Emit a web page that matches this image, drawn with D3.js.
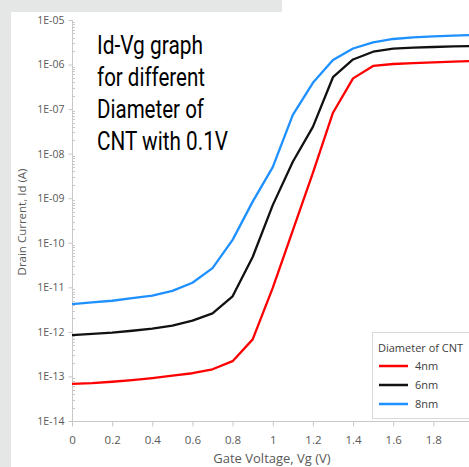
<!DOCTYPE html>
<html><head><meta charset="utf-8">
<script src="https://cdn.jsdelivr.net/npm/d3@7"></script>
<style>
html,body{margin:0;padding:0;background:#fff;}
svg{display:block;}
</style></head>
<body>
<svg id="c" width="469" height="467"></svg>
<script>
// ---- data ----
const vg = [0,0.1,0.2,0.3,0.4,0.5,0.6,0.7,0.8,0.9,1.0,1.1,1.2,1.3,1.4,1.5,1.6,1.7,1.8,1.9,2.0];
const id4nm = [6.8e-14,7.1e-14,7.6e-14,8.3e-14,9.2e-14,1.04e-13,1.18e-13,1.45e-13,2.2e-13,6.8e-13,9.7e-12,1.9e-10,3.7e-9,8.3e-8,4.9e-7,9.3e-7,1.03e-6,1.08e-6,1.12e-6,1.16e-6,1.2e-6];
const id6nm = [8.5e-13,9.0e-13,9.6e-13,1.06e-12,1.18e-12,1.38e-12,1.79e-12,2.6e-12,6.3e-12,4.8e-11,7.0e-10,6.6e-9,4.0e-8,5.2e-7,1.3e-6,1.94e-6,2.27e-6,2.39e-6,2.48e-6,2.57e-6,2.61e-6];
const id8nm = [4.2e-12,4.6e-12,5.0e-12,5.7e-12,6.5e-12,8.3e-12,1.27e-11,2.7e-11,1.16e-10,8.4e-10,5.0e-9,7.4e-8,3.9e-7,1.27e-6,2.29e-6,3.16e-6,3.75e-6,4.09e-6,4.31e-6,4.45e-6,4.61e-6];
const seriesNames = ["4nm","6nm","8nm"];
const seriesColors = ["#ff0000","#111111","#1e90ff"];
const yTickValues = [1e-5,1e-6,1e-7,1e-8,1e-9,1e-10,1e-11,1e-12,1e-13,1e-14];
const yTickLabels = ["1E-05","1E-06","1E-07","1E-08","1E-09","1E-10","1E-11","1E-12","1E-13","1E-14"];
const xTickValues = [0,0.2,0.4,0.6,0.8,1.0,1.2,1.4,1.6,1.8];
const xTickLabels = ["0","0.2","0.4","0.6","0.8","1","1.2","1.4","1.6","1.8"];
const titleLines = ["Id-Vg graph","for different","Diameter of","CNT with 0.1V"];
const xTitle = "Gate Voltage, Vg (V)";
const yTitle = "Drain Current, Id (A)";
const legendTitle = "Diameter of CNT";

// ---- drawing ----
const svg = d3.select("#c");
const axisColor = "#c8c8c8";
const textColor = "#595959";
const fontTick = "'Open Sans', 'Liberation Sans', sans-serif";

// grey backdrop strips
svg.append("rect").attr("x",0).attr("y",0).attr("width",282).attr("height",12).attr("fill","#e5e7e6");
svg.append("rect").attr("x",0).attr("y",0).attr("width",11).attr("height",467).attr("fill","#e5e7e6");

const x = d3.scaleLinear().domain([0,2]).range([72,473.5]);
const y = d3.scaleLog().domain([1e-14,1e-5]).range([421,20]);

// minor y ticks
const minor = [];
for (let e=-14;e<-5;e++) for (let m=2;m<=9;m++) minor.push(m*Math.pow(10,e));
svg.append("g").selectAll("line").data(minor).join("line")
  .attr("x1",72).attr("x2",75).attr("y1",d=>Math.round(y(d))+0.5).attr("y2",d=>Math.round(y(d))+0.5)
  .attr("stroke",axisColor).attr("stroke-width",1);

// y axis
const yAxis = d3.axisLeft(y).tickValues(yTickValues).tickSize(4).tickPadding(4)
  .tickFormat((d,i)=>yTickLabels[i]);
const gy = svg.append("g").attr("transform","translate(72.5,0)").call(yAxis);
gy.select(".domain").attr("stroke",axisColor).attr("d","M0,20V421");
gy.selectAll(".tick line").attr("stroke",axisColor);
gy.selectAll(".tick text").attr("fill",textColor).style("font-family",fontTick).style("font-size","10.5px");

// x axis
const xAxis = d3.axisBottom(x).tickValues(xTickValues).tickSize(5).tickPadding(9)
  .tickFormat((d,i)=>xTickLabels[i]);
const gx = svg.append("g").attr("transform","translate(0,421.5)").call(xAxis);
gx.select(".domain").attr("stroke",axisColor).attr("d","M72,0H473.5");
gx.selectAll(".tick line").attr("stroke",axisColor);
gx.selectAll(".tick text").attr("fill",textColor).style("font-family",fontTick).style("font-size","11.5px");

// axis titles
svg.append("text").attr("x",272).attr("y",463).attr("text-anchor","middle")
  .attr("fill",textColor).style("font-family",fontTick).style("font-size","13px").text(xTitle);
svg.append("text").attr("transform","translate(26,222) rotate(-90)").attr("text-anchor","middle")
  .attr("fill",textColor).style("font-family",fontTick).style("font-size","11.5px").text(yTitle);

// series lines
const data = [id4nm,id6nm,id8nm];
const line = d3.line().x((d,i)=>x(vg[i])).y(d=>y(d));
svg.append("g").selectAll("path").data(data).join("path")
  .attr("d",line).attr("fill","none")
  .attr("stroke",(d,i)=>seriesColors[i]).attr("stroke-width",2.3)
  .attr("stroke-linejoin","round");

// title text
const titleWidths = [106,108,107,131];
const tg = svg.append("g");
titleLines.forEach((t,i)=>{
  tg.append("text").attr("x",97).attr("y",53.5+i*32)
    .attr("fill","#000").style("font-family","Roboto, sans-serif").style("font-size","25px")
    .attr("textLength",titleWidths[i]).attr("lengthAdjust","spacingAndGlyphs").text(t);
});

// legend
const lg = svg.append("g");
lg.append("rect").attr("x",372.5).attr("y",332.5).attr("width",110).attr("height",86)
  .attr("fill","#fff").attr("stroke","#d9d9d9");
lg.append("text").attr("x",378).attr("y",351.5).attr("fill","#404040")
  .style("font-family",fontTick).style("font-size","11px").text(legendTitle);
seriesNames.forEach((n,i)=>{
  const yy = 366 + i*19;
  lg.append("line").attr("x1",379).attr("x2",408).attr("y1",yy).attr("y2",yy)
    .attr("stroke",seriesColors[i]).attr("stroke-width",2.5);
  lg.append("text").attr("x",415).attr("y",yy+4).attr("fill","#404040")
    .style("font-family",fontTick).style("font-size","11px").text(n);
});
</script>
</body></html>
